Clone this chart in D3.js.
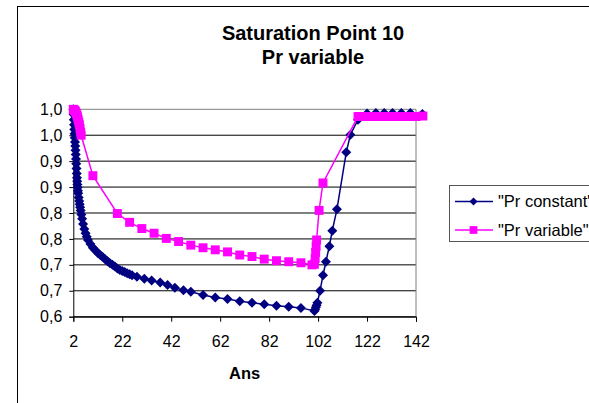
<!DOCTYPE html>
<html>
<head>
<meta charset="utf-8">
<script src="https://cdn.jsdelivr.net/npm/d3@7"></script>
<style>
  body { margin: 0; background: #fff; }
  svg text { font-family: "Liberation Sans", Arial, sans-serif; fill: #000; }
</style>
</head>
<body>
<svg id="chart" width="589" height="403"></svg>
<script>
// values
const titleLines = ["Saturation Point 10", "Pr variable"];
const xLabel = "Ans";
const seriesNames = ['"Pr constant"', '"Pr variable"'];

const xTicks = [2, 22, 42, 62, 82, 102, 122, 142];
const xTickLabels = ["2", "22", "42", "62", "82", "102", "122", "142"];
const yTicks = [0.6, 0.65, 0.7, 0.75, 0.8, 0.85, 0.9, 0.95, 1.0];
const yTickLabels = ["0,6", "0,7", "0,7", "0,8", "0,8", "0,9", "0,9", "1,0", "1,0"];

// "Pr constant"
const constX = [2.0, 2.1, 2.2, 2.3, 2.4, 2.5, 2.6, 2.7, 2.8, 2.9, 3.0, 3.1, 3.2, 3.3, 3.4, 3.5,
  3.6, 3.7, 3.8, 3.9, 4.0, 4.2, 4.4, 4.6, 4.8, 5.0, 5.3, 5.6, 6.0, 6.5, 7.0, 7.5, 8, 9, 10,
  11, 12, 13, 14, 15, 16, 17, 18, 19, 20, 21, 22, 23, 24, 25, 26, 28, 31, 34, 37.5, 40.5,
  43.5, 47, 50, 55, 60, 65, 70, 75, 80, 85, 90, 95, 100.5, 100.8, 101.1, 101.4, 101.7,
  102.8, 104, 105.2, 106.6, 107.8, 109.7, 113.5, 115.2, 118.3, 122, 125.6, 129, 132.4,
  136, 139.7, 144.6];
const constY = [1.000, 0.990, 0.980, 0.970, 0.961, 0.953, 0.945, 0.937, 0.929, 0.921, 0.913,
  0.904, 0.895, 0.886, 0.876, 0.868, 0.861, 0.855, 0.849, 0.843, 0.838, 0.830, 0.823, 0.817,
  0.811, 0.805, 0.797, 0.789, 0.779, 0.769, 0.761, 0.754, 0.748, 0.740, 0.733, 0.728, 0.723,
  0.719, 0.715, 0.711, 0.707, 0.703, 0.700, 0.697, 0.693, 0.690, 0.688, 0.686, 0.684, 0.682,
  0.680, 0.677, 0.673, 0.670, 0.666, 0.661, 0.656, 0.651, 0.648, 0.642, 0.637, 0.634, 0.630,
  0.627, 0.624, 0.621, 0.619, 0.617, 0.611, 0.614, 0.618, 0.622, 0.627, 0.650, 0.680, 0.706,
  0.736, 0.766, 0.807, 0.917, 0.951, 0.980, 0.992, 0.993, 0.993, 0.993, 0.993, 0.993, 0.991];

// "Pr variable"
const varX = [2.0, 2.25, 2.5, 2.75, 3.0, 3.25, 3.5, 3.75, 4.0, 4.25, 4.5, 4.75, 5.0, 5.2, 10,
  20, 25, 30, 35, 40, 45, 50, 55, 60, 65, 70, 75, 80, 85, 90, 95, 99.5, 100.5, 100.8, 101.0,
  101.2, 101.4, 102.4, 104, 118.3, 119, 120, 121, 122, 123, 124, 125, 126, 127, 128, 129,
  130, 131, 132, 133, 134, 135, 136, 137, 138, 139, 140, 141, 142, 144.8];
const varY = [1.000, 0.999, 0.998, 0.997, 0.995, 0.992, 0.989, 0.985, 0.980, 0.975, 0.970,
  0.963, 0.956, 0.950, 0.872, 0.799, 0.782, 0.770, 0.761, 0.751, 0.745, 0.738, 0.733, 0.729,
  0.725, 0.719, 0.716, 0.711, 0.708, 0.706, 0.704, 0.700, 0.701, 0.712, 0.724, 0.736, 0.748,
  0.805, 0.858, 0.986, 0.986, 0.986, 0.986, 0.986, 0.986, 0.986, 0.986, 0.986, 0.986, 0.986,
  0.986, 0.986, 0.986, 0.986, 0.986, 0.986, 0.986, 0.986, 0.986, 0.986, 0.986, 0.986, 0.986,
  0.986, 0.987];

const constData = constX.map((x, i) => ({x: x, y: constY[i]}));
const varData = varX.map((x, i) => ({x: x, y: varY[i]}));

const navy = "#000080", pink = "#FF00FF";
const plot = {left: 73.3, right: 416, top: 109.3, bottom: 316.7};

const svg = d3.select("#chart");

// chart area border (runs off the picture to the right and bottom)
svg.append("rect")
  .attr("x", 17.5).attr("y", 6.5)
  .attr("width", 700).attr("height", 500)
  .attr("fill", "#fff").attr("stroke", "#000");

const x = d3.scaleLinear().domain([2, 142]).range([plot.left, plot.right]);
const y = d3.scaleLinear().domain([0.6, 1.0]).range([plot.bottom, plot.top]);

// title
svg.append("text")
  .attr("x", 313).attr("y", 39.5)
  .attr("text-anchor", "middle")
  .attr("font-size", "20px").attr("font-weight", "bold")
  .selectAll("tspan")
  .data(titleLines)
  .enter().append("tspan")
    .attr("x", 313)
    .attr("dy", (d, i) => i == 0 ? 0 : 24)
    .text(d => d);

// gridlines
svg.append("g")
  .selectAll("line")
  .data(yTicks)
  .enter().append("line")
    .attr("x1", plot.left).attr("x2", plot.right)
    .attr("y1", d => y(d)).attr("y2", d => y(d))
    .attr("stroke", d => d == 1.0 ? "#808080" : "#000")
    .attr("stroke-width", 1);

// plot area border on the right
svg.append("line")
  .attr("x1", plot.right).attr("x2", plot.right)
  .attr("y1", plot.top).attr("y2", plot.bottom)
  .attr("stroke", "#808080");

// axes
const xAxis = d3.axisBottom(x)
  .tickValues(xTicks)
  .tickFormat((d, i) => xTickLabels[i])
  .tickSizeOuter(0).tickSize(5).tickPadding(14);
const gx = svg.append("g")
  .attr("transform", "translate(0," + plot.bottom + ")")
  .call(xAxis);

const yAxis = d3.axisLeft(y)
  .tickValues(yTicks)
  .tickFormat((d, i) => yTickLabels[i])
  .tickSizeOuter(0).tickSize(4).tickPadding(7);
const gy = svg.append("g")
  .attr("transform", "translate(" + plot.left + ",0)")
  .call(yAxis);

[gx, gy].forEach(g => {
  g.select(".domain").attr("stroke", "#000");
  g.selectAll(".tick line").attr("stroke", "#000");
  g.selectAll("text").attr("font-size", "16px")
    .attr("font-family", '"Liberation Sans", Arial, sans-serif');
});

svg.append("text")
  .attr("x", (plot.left + plot.right) / 2).attr("y", 379)
  .attr("text-anchor", "middle")
  .attr("font-size", "16.5px").attr("font-weight", "bold")
  .text(xLabel);

// series
const line = d3.line().x(d => x(d.x)).y(d => y(d.y));
const diamond = d3.symbol().type(d3.symbolSquare).size(50);
const square = d3.symbol().type(d3.symbolSquare).size(80);

function drawSeries(data, color, sym, rot) {
  const g = svg.append("g");
  g.append("path")
    .datum(data)
    .attr("d", line)
    .attr("fill", "none")
    .attr("stroke", color)
    .attr("stroke-width", 1.5);
  g.selectAll("path.pt")
    .data(data)
    .enter().append("path")
      .attr("class", "pt")
      .attr("d", sym)
      .attr("fill", color)
      .attr("transform", d => "translate(" + x(d.x) + "," + y(d.y) + ") rotate(" + rot + ")");
}

drawSeries(constData, navy, diamond, 45);
drawSeries(varData, pink, square, 0);

// legend
const legend = svg.append("g").attr("transform", "translate(449.5,185.5)");
legend.append("rect")
  .attr("width", 200).attr("height", 56)
  .attr("fill", "#fff").attr("stroke", "#555");

const entries = [
  {name: seriesNames[0], color: navy, sym: d3.symbol().type(d3.symbolSquare).size(32), rot: 45, y: 16},
  {name: seriesNames[1], color: pink, sym: d3.symbol().type(d3.symbolSquare).size(60), rot: 0, y: 44.5}
];
const item = legend.selectAll("g.item")
  .data(entries)
  .enter().append("g")
    .attr("class", "item")
    .attr("transform", d => "translate(0," + d.y + ")");
item.append("line")
  .attr("x1", 5.5).attr("x2", 43.5)
  .attr("stroke", d => d.color).attr("stroke-width", 1.5);
item.append("path")
  .attr("d", d => d.sym())
  .attr("fill", d => d.color)
  .attr("transform", d => "translate(24,0) rotate(" + d.rot + ")");
item.append("text")
  .attr("x", 48.5).attr("dy", "0.35em")
  .attr("font-size", "16.5px")
  .text(d => d.name);
</script>
</body>
</html>
